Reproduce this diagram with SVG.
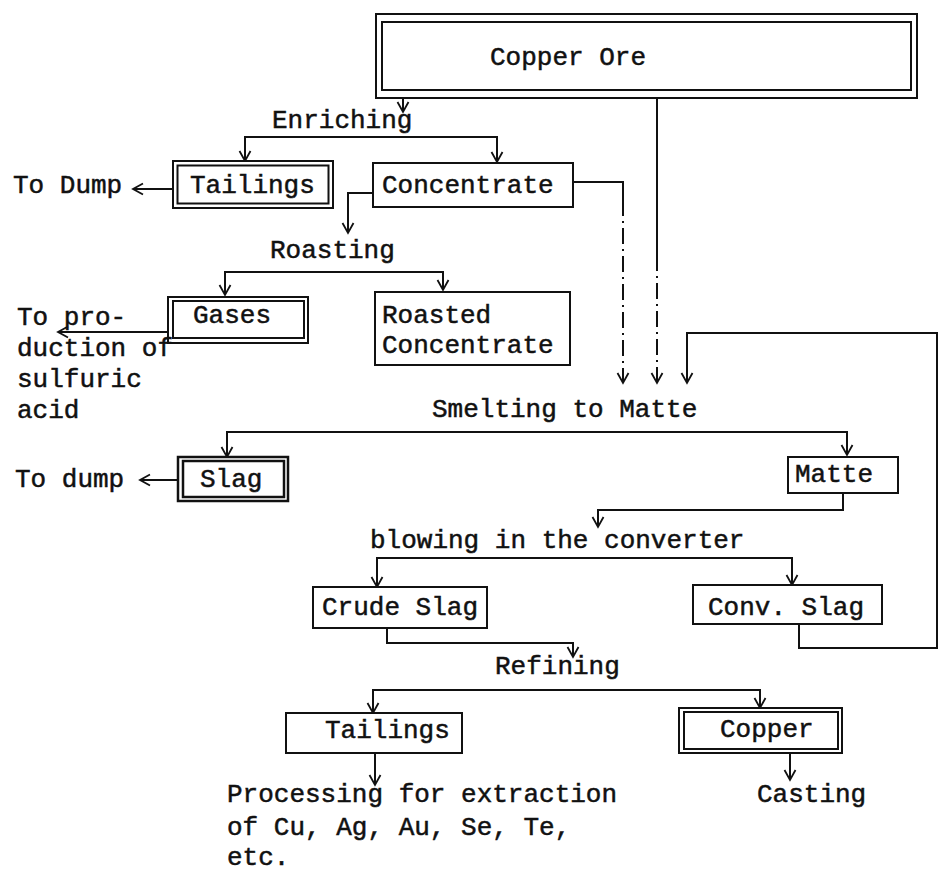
<svg xmlns="http://www.w3.org/2000/svg" width="947" height="888" viewBox="0 0 947 888">
<style>
  .t { font-family: "Liberation Mono", "DejaVu Sans Mono", monospace; font-size: 26px; fill: #111; stroke: #111; stroke-width: 0.5; }
  .b { fill: #fff; stroke: #111; stroke-width: 2; }
  .c { fill: none; stroke: #111; stroke-width: 2; }
  .d { fill: none; stroke: #111; stroke-width: 2; stroke-dasharray: 16 5 2 5; }
</style>
<defs>
  <marker id="arr" viewBox="-10 -7 12 14" refX="0" refY="0" markerWidth="12" markerHeight="14" markerUnits="userSpaceOnUse" orient="auto" overflow="visible">
    <path d="M-10,-5.5 L0,0 L-10,5.5" fill="none" stroke="#111" stroke-width="1.8"/>
  </marker>
</defs>
<rect width="947" height="888" fill="#fff"/>

<g id="connectors">
  <path class="c" d="M403,98 V112" marker-end="url(#arr)"/>
  <path class="c" d="M245,161 V137 H497 V162" marker-end="url(#arr)"/>
  <path class="c" d="M245,137 V161" marker-end="url(#arr)"/>
  <path class="c" d="M173,189 H133" marker-end="url(#arr)"/>
  <path class="c" d="M373,193 H348 V233" marker-end="url(#arr)"/>
  <path class="c" d="M225,295 V272 H443 V290" marker-end="url(#arr)"/>
  <path class="c" d="M225,272 V295" marker-end="url(#arr)"/>
  <path class="c" d="M168,332 H58" marker-end="url(#arr)"/>
  <path class="c" d="M573,182 H623 V200"/>
  <path class="d" d="M623,200 V383" marker-end="url(#arr)"/>
  <path class="c" d="M657,98 V255"/>
  <path class="d" d="M657,255 V383" marker-end="url(#arr)"/>
  <path class="c" d="M799,624 V648 H937 V333 H687 V383" marker-end="url(#arr)"/>
  <path class="c" d="M227,458 V432 H847 V455" marker-end="url(#arr)"/>
  <path class="c" d="M227,432 V457" marker-end="url(#arr)"/>
  <path class="c" d="M178,480 H140" marker-end="url(#arr)"/>
  <path class="c" d="M843,493 V510 H598 V527" marker-end="url(#arr)"/>
  <path class="c" d="M377,587 V558 H792 V585" marker-end="url(#arr)"/>
  <path class="c" d="M377,558 V587" marker-end="url(#arr)"/>
  <path class="c" d="M387,628 V643 H573 V657" marker-end="url(#arr)"/>
  <path class="c" d="M373,713 V690 H760 V708" marker-end="url(#arr)"/>
  <path class="c" d="M373,690 V713" marker-end="url(#arr)"/>
  <path class="c" d="M375,753 V785" marker-end="url(#arr)"/>
  <path class="c" d="M790,753 V780" marker-end="url(#arr)"/>
</g>

<g id="copper-ore">
  <rect class="b" x="376" y="14" width="541" height="84"/>
  <rect class="b" x="382" y="22" width="529" height="68"/>
  <text class="t" x="490" y="65">Copper Ore</text>
</g>
<g id="enriching"><text class="t" x="272" y="128">Enriching</text></g>
<g id="tailings1">
  <rect class="b" x="173" y="161" width="160" height="47"/>
  <rect class="b" x="177.5" y="165.5" width="151" height="38"/>
  <text class="t" x="190" y="193">Tailings</text>
</g>
<g id="to-dump1"><text class="t" x="13" y="193">To Dump</text></g>
<g id="concentrate">
  <rect class="b" x="373" y="163" width="200" height="44"/>
  <text class="t" x="382" y="193">Concentrate</text>
</g>
<g id="roasting"><text class="t" x="270" y="258">Roasting</text></g>
<g id="gases">
  <rect class="b" x="168" y="297" width="140" height="46"/>
  <rect class="b" x="173" y="301" width="131" height="37"/>
  <text class="t" x="193" y="323">Gases</text>
</g>
<g id="to-production">
  <text class="t" x="17" y="325">To pro-</text>
  <text class="t" x="17" y="356">duction of</text>
  <text class="t" x="17" y="387">sulfuric</text>
  <text class="t" x="17" y="418">acid</text>
</g>
<g id="roasted-concentrate">
  <rect class="b" x="375" y="292" width="195" height="73"/>
  <text class="t" x="382" y="323">Roasted</text>
  <text class="t" x="382" y="353">Concentrate</text>
</g>
<g id="smelting"><text class="t" x="432" y="417">Smelting to Matte</text></g>
<g id="slag">
  <rect class="b" x="178" y="457" width="110" height="44" style="stroke-width:2.5"/>
  <rect class="b" x="183" y="461" width="101" height="36" style="stroke-width:2.5"/>
  <text class="t" x="200" y="487">Slag</text>
</g>
<g id="to-dump2"><text class="t" x="15" y="487">To dump</text></g>
<g id="matte">
  <rect class="b" x="788" y="457" width="110" height="36"/>
  <text class="t" x="795" y="482">Matte</text>
</g>
<g id="blowing"><text class="t" x="370" y="548">blowing in the converter</text></g>
<g id="crude-slag">
  <rect class="b" x="313" y="587" width="174" height="41"/>
  <text class="t" x="322" y="615">Crude Slag</text>
</g>
<g id="conv-slag">
  <rect class="b" x="693" y="585" width="189" height="39"/>
  <text class="t" x="708" y="615">Conv. Slag</text>
</g>
<g id="refining"><text class="t" x="495" y="674">Refining</text></g>
<g id="tailings2">
  <rect class="b" x="286" y="713" width="176" height="40"/>
  <text class="t" x="325" y="738">Tailings</text>
</g>
<g id="copper">
  <rect class="b" x="679" y="708" width="163" height="45"/>
  <rect class="b" x="684" y="712" width="154" height="37"/>
  <text class="t" x="720" y="737">Copper</text>
</g>
<g id="processing">
  <text class="t" x="227" y="802">Processing for extraction</text>
  <text class="t" x="227" y="835">of Cu, Ag, Au, Se, Te,</text>
  <text class="t" x="227" y="865">etc.</text>
</g>
<g id="casting"><text class="t" x="757" y="802">Casting</text></g>
</svg>
